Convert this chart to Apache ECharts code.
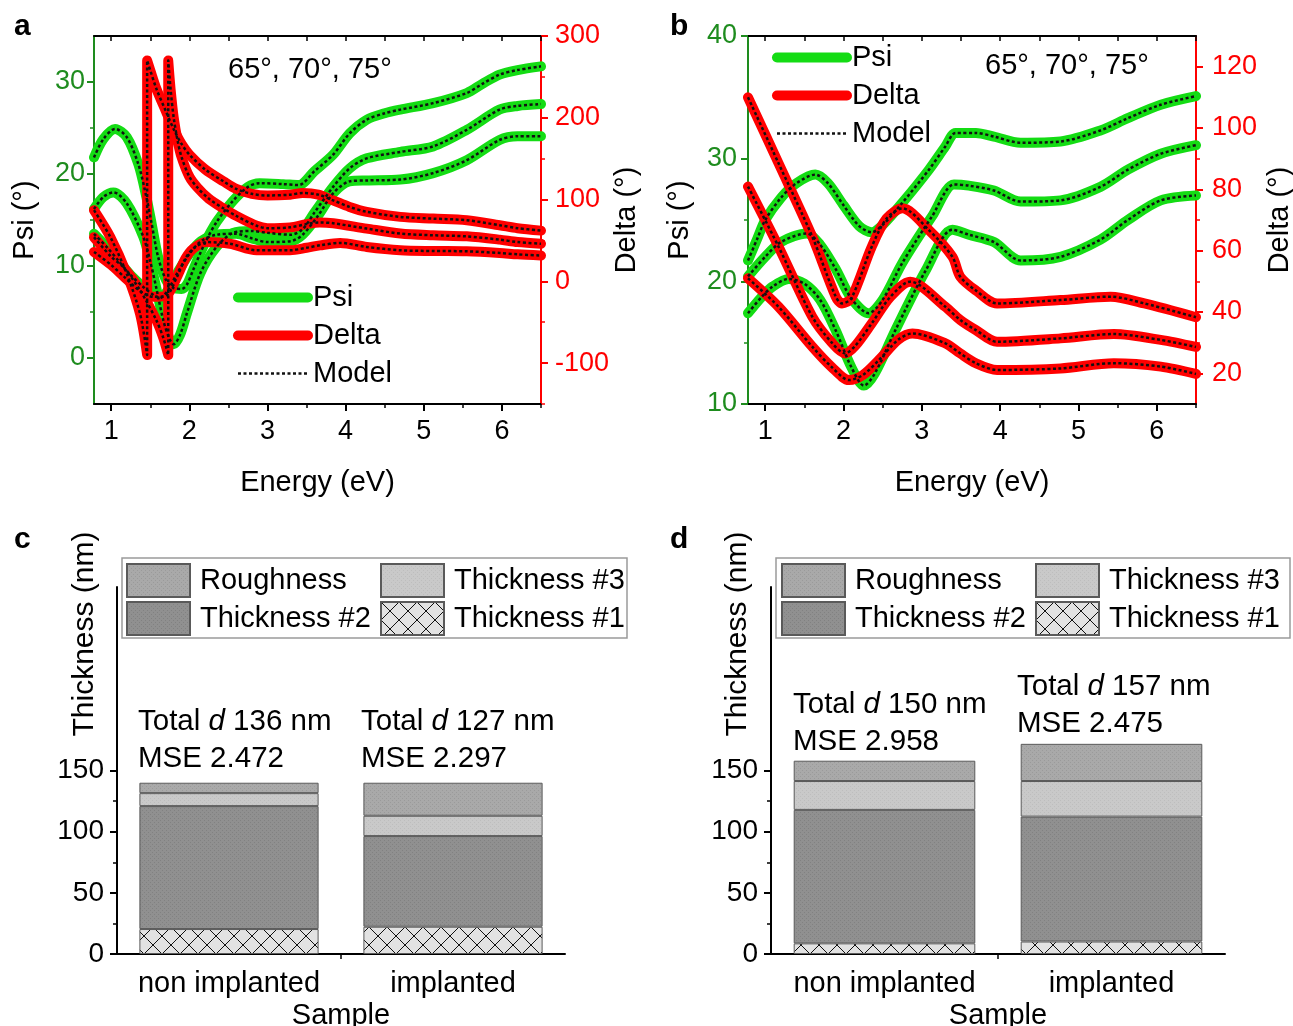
<!DOCTYPE html>
<html>
<head>
<meta charset="utf-8">
<title>Ellipsometry fits and layer thickness</title>
<script src="https://cdn.jsdelivr.net/npm/echarts@6/dist/echarts.min.js"></script>
<style>
  html, body { margin: 0; padding: 0; background: #fff; }
  #chart { width: 1293px; height: 1026px; }
</style>
</head>
<body>
<div id="chart"></div>
<script>
// ---------- data ----------
// tick values
const energyTicks = [1, 2, 3, 4, 5, 6];
const energyMinor = [1.5, 2.5, 3.5, 4.5, 5.5, 6.5];
const aPsiTicks = [0, 10, 20, 30];
const aPsiMinor = [5, 15, 25];
const aDeltaTicks = [-100, 0, 100, 200, 300];
const aDeltaMinor = [-150, -50, 50, 150, 250];
const bPsiTicks = [10, 20, 30, 40];
const bPsiMinor = [15, 25, 35];
const bDeltaTicks = [20, 40, 60, 80, 100, 120];
const bDeltaMinor = [30, 50, 70, 90, 110];
const thickTicks = [0, 50, 100, 150];
const thickMinor = [25, 75, 125];

// panel a, Psi (three angles), [energy eV, Psi deg]
const aPsi1 = [[0.78, 21.8], [0.9, 23.8], [1.05, 24.9], [1.2, 24.0], [1.35, 21.0], [1.45, 17.5], [1.52, 14.5], [1.6, 11.0], [1.7, 8.5], [1.8, 7.6], [1.9, 7.5], [1.97, 8.0], [2.05, 9.6], [2.2, 12.5], [2.35, 14.8], [2.55, 17.0], [2.75, 18.6], [2.9, 19.0], [3.2, 18.9], [3.4, 18.8], [3.6, 20.3], [3.84, 22.1], [4.05, 24.4], [4.27, 25.9], [4.5, 26.6], [4.7, 27.0], [5.12, 27.7], [5.55, 28.8], [5.75, 29.8], [5.97, 30.8], [6.2, 31.3], [6.5, 31.7]];
const aPsi2 = [[0.78, 16.2], [0.9, 17.5], [1.03, 18.0], [1.2, 16.8], [1.41, 13.2], [1.5, 10.5], [1.58, 7.5], [1.67, 4.0], [1.75, 2.0], [1.8, 1.5], [1.88, 2.5], [1.97, 4.9], [2.14, 9.2], [2.35, 12.1], [2.56, 13.6], [2.8, 13.8], [3.0, 13.6], [3.3, 13.4], [3.45, 14.0], [3.6, 15.8], [3.84, 18.6], [4.05, 20.6], [4.27, 21.7], [4.7, 22.4], [5.12, 23.0], [5.55, 24.8], [5.97, 27.0], [6.2, 27.4], [6.5, 27.6]];
const aPsi3 = [[0.78, 13.5], [0.95, 12.0], [1.1, 10.5], [1.25, 9.0], [1.4, 7.8], [1.55, 6.8], [1.62, 6.5], [1.72, 7.3], [1.85, 9.3], [2.0, 11.3], [2.15, 12.7], [2.35, 13.4], [2.6, 13.5], [2.8, 13.0], [3.0, 12.6], [3.3, 12.7], [3.45, 13.4], [3.65, 15.5], [3.84, 17.9], [4.05, 19.2], [4.27, 19.3], [4.7, 19.4], [5.12, 20.1], [5.55, 21.5], [5.97, 23.7], [6.2, 24.1], [6.5, 24.1]];

// panel a, Delta (wraps from -90 to 270), [energy eV, Delta deg]
const aDelta1 = [[0.78, 87], [0.99, 54], [1.2, 9], [1.37, -40], [1.46, -90], [1.46, 270], [1.5, 258], [1.58, 235], [1.7, 208], [1.8, 186], [1.9, 168], [2.0, 155], [2.2, 137], [2.44, 122], [2.6, 113], [2.8, 107], [3.0, 105], [3.29, 106], [3.45, 108], [3.65, 106], [3.84, 99], [4.05, 91], [4.27, 85], [4.7, 78.8], [5.12, 76.7], [5.55, 74.7], [5.97, 68.6], [6.2, 65], [6.5, 62]];
const aDelta2 = [[0.78, 54], [1.0, 30], [1.16, 17], [1.37, -11], [1.58, -48], [1.67, -70], [1.73, -90], [1.73, 270], [1.76, 235], [1.8, 200], [1.85, 172], [1.9, 152], [2.0, 128], [2.1, 115], [2.25, 101], [2.44, 89], [2.6, 80], [2.86, 68], [3.0, 65], [3.29, 66], [3.5, 70], [3.67, 72], [3.84, 71], [4.27, 64.5], [4.7, 58.4], [5.12, 56.3], [5.55, 55], [5.97, 51], [6.2, 48], [6.5, 46]];
const aDelta3 = [[0.78, 36], [1.0, 20], [1.16, 6], [1.37, -12], [1.54, -19], [1.71, -17], [1.84, 5], [1.95, 28], [2.05, 40], [2.22, 48], [2.52, 46], [2.86, 38], [3.29, 38], [3.5, 41], [3.67, 44], [3.93, 47], [4.27, 42], [4.7, 38], [5.12, 37.1], [5.55, 36.7], [5.97, 34.7], [6.2, 33], [6.5, 31.5]];

// panel b, Psi
const bPsi1 = [[0.78, 21.7], [0.9, 23.5], [1.0, 25.0], [1.2, 26.8], [1.4, 28.0], [1.64, 28.7], [1.8, 28.0], [2.0, 26.2], [2.2, 24.5], [2.36, 24.0], [2.5, 24.6], [2.75, 26.4], [3.09, 29.1], [3.3, 31.0], [3.43, 32.1], [3.69, 32.1], [3.92, 31.8], [4.26, 31.3], [4.77, 31.4], [5.28, 32.3], [5.63, 33.3], [6.05, 34.4], [6.5, 35.1]];
const bPsi2 = [[0.78, 20.4], [1.0, 22.0], [1.2, 23.2], [1.53, 23.9], [1.7, 23.0], [1.9, 21.0], [2.1, 18.6], [2.32, 17.4], [2.5, 18.5], [2.75, 21.5], [3.13, 25.3], [3.41, 27.9], [3.6, 27.8], [3.92, 27.4], [4.26, 26.5], [4.77, 26.6], [5.28, 27.7], [5.63, 29.1], [6.05, 30.4], [6.5, 31.1]];
const bPsi3 = [[0.78, 17.4], [0.95, 18.7], [1.1, 19.6], [1.3, 20.2], [1.5, 19.8], [1.7, 18.5], [1.9, 16.0], [2.1, 13.0], [2.26, 11.5], [2.4, 12.5], [2.66, 16.0], [3.05, 20.9], [3.39, 24.2], [3.6, 23.8], [3.92, 23.2], [4.26, 21.7], [4.77, 22.0], [5.28, 23.4], [5.63, 25.0], [6.05, 26.6], [6.5, 27.0]];

// panel b, Delta
const bDelta1 = [[0.78, 110], [1.17, 88.5], [1.6, 64.6], [1.9, 45], [1.98, 42.8], [2.1, 44.5], [2.36, 61.3], [2.55, 70.5], [2.75, 73.8], [3.09, 66.7], [3.39, 58], [3.49, 51.5], [3.69, 47], [3.96, 42.8], [4.77, 43.9], [5.41, 45], [5.84, 42.8], [6.5, 38.3]];
const bDelta2 = [[0.78, 80.9], [1.17, 61.3], [1.6, 38.5], [1.85, 30], [2.02, 26.5], [2.15, 29], [2.36, 36.3], [2.6, 45], [2.85, 49.9], [3.3, 41.7], [3.49, 37.4], [3.69, 34.1], [3.96, 30.3], [4.77, 31.4], [5.45, 32.8], [6.05, 30.9], [6.5, 28.6]];
const bDelta3 = [[0.78, 51], [1.17, 41.7], [1.6, 28.7], [1.85, 22], [2.07, 17.8], [2.25, 19.5], [2.45, 24.3], [2.7, 31], [2.88, 33], [3.3, 29.8], [3.49, 26.5], [3.69, 23.3], [3.96, 21.1], [4.77, 21.6], [5.45, 23.3], [6.05, 22.2], [6.5, 19.8]];

// panels c and d, layer thickness (nm)
const samples = ['non implanted', 'implanted'];
const cRoughness = [8.5, 27.0];
const cThick3 = [10.6, 16.6];
const cThick2 = [100.5, 74.1];
const cThick1 = [20.4, 22.3];
const dRoughness = [16.6, 30.4];
const dThick3 = [23.6, 29.1];
const dThick2 = [109.1, 102.1];
const dThick1 = [8.7, 10.2];
const cNotes = [['136', '2.472'], ['127', '2.297']];
const dNotes = [['150', '2.958'], ['157', '2.475']];

// ---------- styles ----------
const FONT = '"Liberation Sans", Arial, sans-serif';
const PSI_COLOR = '#14dc14';
const DELTA_COLOR = '#ff0000';
const GREEN_AXIS = '#1e8c1e';
const RED_AXIS = '#ff0000';
const DATA_WIDTH = 10;
const MODEL_WIDTH = 2.5;
const MODEL_DASH = [3, 2.5];

// small canvas tiles to imitate the fill textures
function dotTile(base, dot) {
    const c = document.createElement('canvas');
    c.width = 4; c.height = 4;
    const ctx = c.getContext('2d');
    ctx.fillStyle = base; ctx.fillRect(0, 0, 4, 4);
    ctx.fillStyle = dot;
    ctx.fillRect(0, 0, 1, 1); ctx.fillRect(2, 2, 1, 1);
    return { image: c, repeat: 'repeat' };
}
function crossTile() {
    const c = document.createElement('canvas');
    c.width = 18; c.height = 18;
    const ctx = c.getContext('2d');
    ctx.fillStyle = '#e2e2e2'; ctx.fillRect(0, 0, 18, 18);
    ctx.strokeStyle = '#111'; ctx.lineWidth = 1;
    ctx.beginPath();
    ctx.moveTo(0, 0); ctx.lineTo(18, 18);
    ctx.moveTo(18, 0); ctx.lineTo(0, 18);
    ctx.stroke();
    return { image: c, repeat: 'repeat' };
}
const fillRough = dotTile('#a9a9a9', '#9a9a9a');
const fillT3 = dotTile('#c9c9c9', '#bdbdbd');
const fillT2 = dotTile('#909090', '#818181');
const fillT1 = crossTile();

// value axis with its own ticks / labels (customValues keeps ticks off the axis ends)
function axis(gridIndex, position, min, max, color, ticks, tickLen, opts) {
    opts = opts || {};
    return {
        type: 'value', gridIndex: gridIndex, position: position, min: min, max: max,
        splitLine: { show: false },
        axisLine: { show: opts.line !== false, onZero: false, lineStyle: { color: color, width: 2 } },
        axisTick: { show: true, customValues: ticks, length: tickLen, inside: !!opts.inside,
                    lineStyle: { color: color, width: tickLen > 5 ? 2 : 1.5 } },
        axisLabel: opts.labels
            ? { show: true, customValues: ticks, color: color, fontSize: opts.fontSize || 27, fontFamily: FONT, margin: opts.margin || 8 }
            : { show: false },
        name: opts.name || '', nameLocation: 'middle', nameGap: opts.nameGap || 0,
        nameRotate: opts.nameRotate,
        nameTextStyle: { color: '#000', fontSize: 29, fontFamily: FONT }
    };
}

function categoryAxis(gridIndex) {
    return {
        type: 'category', gridIndex: gridIndex, position: 'bottom', data: samples,
        axisLine: { onZero: false, lineStyle: { color: '#000', width: 2 } },
        axisTick: { alignWithLabel: true, length: 7, lineStyle: { color: '#000', width: 2 } },
        axisLabel: { interval: 0, color: '#000', fontSize: 29, fontFamily: FONT, margin: 15 },
        name: 'Sample', nameLocation: 'middle', nameGap: 47,
        nameTextStyle: { color: '#000', fontSize: 29, fontFamily: FONT }
    };
}

function curve(name, data, xIdx, yIdx, color, width, dashed, z) {
    return {
        type: 'line', name: name, data: data, xAxisIndex: xIdx, yAxisIndex: yIdx,
        showSymbol: false, symbol: 'none', smooth: 0.3, z: z,
        lineStyle: { color: color, width: width, type: dashed ? MODEL_DASH : 'solid',
                     cap: dashed ? 'butt' : 'round', join: 'round' },
        itemStyle: { color: color }
    };
}

function bar(name, data, xIdx, yIdx, stack, fill) {
    return {
        type: 'bar', name: name, data: data, xAxisIndex: xIdx, yAxisIndex: yIdx, stack: stack,
        barWidth: '80%',
        itemStyle: { color: fill, borderColor: '#5a5a5a', borderWidth: 1 }
    };
}

// ---------- axes ----------
const xAxes = [
    // panel a
    axis(0, 'bottom', 0.78, 6.5, '#000', energyTicks, 7, { labels: true, margin: 14, name: 'Energy (eV)', nameGap: 64 }),
    axis(0, 'bottom', 0.78, 6.5, '#000', energyMinor, 4, { line: false }),
    axis(0, 'top', 0.78, 6.5, '#000', energyTicks.concat(energyMinor), 5, { inside: true }),
    // panel b
    axis(1, 'bottom', 0.78, 6.5, '#000', energyTicks, 7, { labels: true, margin: 14, name: 'Energy (eV)', nameGap: 64 }),
    axis(1, 'bottom', 0.78, 6.5, '#000', energyMinor, 4, { line: false }),
    axis(1, 'top', 0.78, 6.5, '#000', energyTicks.concat(energyMinor), 5, { inside: true }),
    // panel c
    categoryAxis(2),
    axis(2, 'bottom', 0, 2, '#000', [1], 5, { line: false }),
    // panel d
    categoryAxis(3),
    axis(3, 'bottom', 0, 2, '#000', [1], 5, { line: false })
];

const yAxes = [
    // panel a
    axis(0, 'left', -5, 35, GREEN_AXIS, aPsiTicks, 7, { labels: true, margin: 9, name: 'Psi (°)', nameGap: 55, nameRotate: 90 }),
    axis(0, 'left', -5, 35, GREEN_AXIS, aPsiMinor, 4, { line: false }),
    axis(0, 'right', -150, 300, RED_AXIS, aDeltaTicks, 7, { labels: true, margin: 14, name: 'Delta (°)', nameGap: 71, nameRotate: 90 }),
    axis(0, 'right', -150, 300, RED_AXIS, aDeltaMinor, 4, { line: false }),
    // panel b
    axis(1, 'left', 10, 40, GREEN_AXIS, bPsiTicks, 7, { labels: true, margin: 11, name: 'Psi (°)', nameGap: 54, nameRotate: 90 }),
    axis(1, 'left', 10, 40, GREEN_AXIS, bPsiMinor, 4, { line: false }),
    axis(1, 'right', 10, 130, RED_AXIS, bDeltaTicks, 7, { labels: true, margin: 16, name: 'Delta (°)', nameGap: 69, nameRotate: 90 }),
    axis(1, 'right', 10, 130, RED_AXIS, bDeltaMinor, 4, { line: false }),
    // panel c
    axis(2, 'left', 0, 300, '#000', thickTicks, 7, { labels: true, fontSize: 28, margin: 13 }),
    axis(2, 'left', 0, 300, '#000', thickMinor, 4, { line: false }),
    // panel d
    axis(3, 'left', 0, 300, '#000', thickTicks, 7, { labels: true, fontSize: 28, margin: 13 }),
    axis(3, 'left', 0, 300, '#000', thickMinor, 4, { line: false })
];

// ---------- series ----------
const series = [];
[[aPsi1, aPsi2, aPsi3, aDelta1, aDelta2, aDelta3, 0, 0, 2],
 [bPsi1, bPsi2, bPsi3, bDelta1, bDelta2, bDelta3, 3, 4, 6]].forEach(function (p) {
    const xi = p[6], yPsi = p[7], yDelta = p[8];
    [p[0], p[1], p[2]].forEach(function (d) { series.push(curve('Psi', d, xi, yPsi, PSI_COLOR, DATA_WIDTH, false, 2)); });
    [p[3], p[4], p[5]].forEach(function (d) { series.push(curve('Delta', d, xi, yDelta, DELTA_COLOR, DATA_WIDTH, false, 3)); });
    [p[0], p[1], p[2]].forEach(function (d) { series.push(curve('Model', d, xi, yPsi, '#111', MODEL_WIDTH, true, 4)); });
    [p[3], p[4], p[5]].forEach(function (d) { series.push(curve('Model', d, xi, yDelta, '#111', MODEL_WIDTH, true, 4)); });
});
series.push(
    bar('Thickness #1', cThick1, 6, 8, 'c', fillT1),
    bar('Thickness #2', cThick2, 6, 8, 'c', fillT2),
    bar('Thickness #3', cThick3, 6, 8, 'c', fillT3),
    bar('Roughness', cRoughness, 6, 8, 'c', fillRough),
    bar('Thickness #1', dThick1, 8, 10, 'd', fillT1),
    bar('Thickness #2', dThick2, 8, 10, 'd', fillT2),
    bar('Thickness #3', dThick3, 8, 10, 'd', fillT3),
    bar('Roughness', dRoughness, 8, 10, 'd', fillRough)
);

// ---------- legends ----------
function lineLegend(left, top) {
    return {
        orient: 'vertical', left: left, top: top, padding: 0,
        itemWidth: 70, itemHeight: 14, itemGap: 9, selectedMode: false,
        itemStyle: { opacity: 0 },
        data: [
            { name: 'Psi', lineStyle: { width: DATA_WIDTH, color: PSI_COLOR, cap: 'round' } },
            { name: 'Delta', lineStyle: { width: DATA_WIDTH, color: DELTA_COLOR, cap: 'round' } },
            { name: 'Model', lineStyle: { width: MODEL_WIDTH, color: '#111', type: MODEL_DASH } }
        ],
        textStyle: { color: '#000', fontSize: 29, fontFamily: FONT }
    };
}
function barLegend(left, names) {
    return {
        orient: 'vertical', left: left, top: 563, padding: 0,
        itemWidth: 63, itemHeight: 33, itemGap: 3,
        data: names, selectedMode: false, icon: 'rect',
        textStyle: { color: '#000', fontSize: 29, fontFamily: FONT, padding: [0, 0, 0, 5] }
    };
}

// ---------- text ----------
function txt(x, y, text, font) {
    return {
        type: 'text', x: x, y: y,
        style: { text: text, font: font, fill: '#000', align: 'left', verticalAlign: 'middle' }
    };
}
function vtxt(x, y, text) {
    return {
        type: 'text', x: x, y: y, rotation: Math.PI / 2,
        style: { text: text, font: '30px ' + FONT, fill: '#000', align: 'center', verticalAlign: 'middle' }
    };
}
function note(x, y, total, mse) {
    return [
        {
            type: 'text', x: x, y: y,
            style: {
                text: '{n|Total }{i|d}{n| ' + total + ' nm}', fill: '#000', verticalAlign: 'middle',
                rich: { n: { font: '29.5px ' + FONT }, i: { font: 'italic 29.5px ' + FONT } }
            }
        },
        txt(x, y + 37, 'MSE ' + mse, '29.5px ' + FONT)
    ];
}

const graphics = [
    txt(14, 27, 'a', 'bold 30px ' + FONT),
    txt(670, 27, 'b', 'bold 30px ' + FONT),
    txt(14, 540, 'c', 'bold 30px ' + FONT),
    txt(670, 540, 'd', 'bold 30px ' + FONT),
    txt(228, 70, '65°, 70°, 75°', '29px ' + FONT),
    txt(985, 66, '65°, 70°, 75°', '29px ' + FONT),
    vtxt(85, 634, 'Thickness (nm)'),
    vtxt(738, 634, 'Thickness (nm)'),
    { type: 'rect', shape: { x: 122, y: 558, width: 505, height: 80 }, style: { fill: 'none', stroke: '#9a9a9a', lineWidth: 1.5 }, z: -1 },
    { type: 'rect', shape: { x: 776, y: 558, width: 514, height: 80 }, style: { fill: 'none', stroke: '#9a9a9a', lineWidth: 1.5 }, z: -1 }
]
    .concat(note(138, 722, cNotes[0][0], cNotes[0][1]))
    .concat(note(361, 722, cNotes[1][0], cNotes[1][1]))
    .concat(note(793, 705, dNotes[0][0], dNotes[0][1]))
    .concat(note(1017, 687, dNotes[1][0], dNotes[1][1]));

// ---------- chart ----------
// outerBoundsMode 'none': keep the grids exactly where they are placed
const chart = echarts.init(document.getElementById('chart'), null, { renderer: 'canvas' });
chart.setOption({
    animation: false,
    backgroundColor: '#fff',
    textStyle: { fontFamily: FONT },
    grid: [
        { left: 94, top: 36, width: 447, height: 368, outerBoundsMode: 'none' },
        { left: 748, top: 36, width: 448, height: 368, outerBoundsMode: 'none' },
        { left: 117, top: 587, width: 448, height: 367, outerBoundsMode: 'none' },
        { left: 771, top: 587, width: 454, height: 367, outerBoundsMode: 'none' }
    ],
    xAxis: xAxes,
    yAxis: yAxes,
    legend: [
        lineLegend(233, 283),
        lineLegend(772, 43),
        barLegend(126, ['Roughness', 'Thickness #2']),
        barLegend(380, ['Thickness #3', 'Thickness #1']),
        barLegend(781, ['Roughness', 'Thickness #2']),
        barLegend(1035, ['Thickness #3', 'Thickness #1'])
    ],
    graphic: graphics,
    series: series
});
</script>
</body>
</html>
